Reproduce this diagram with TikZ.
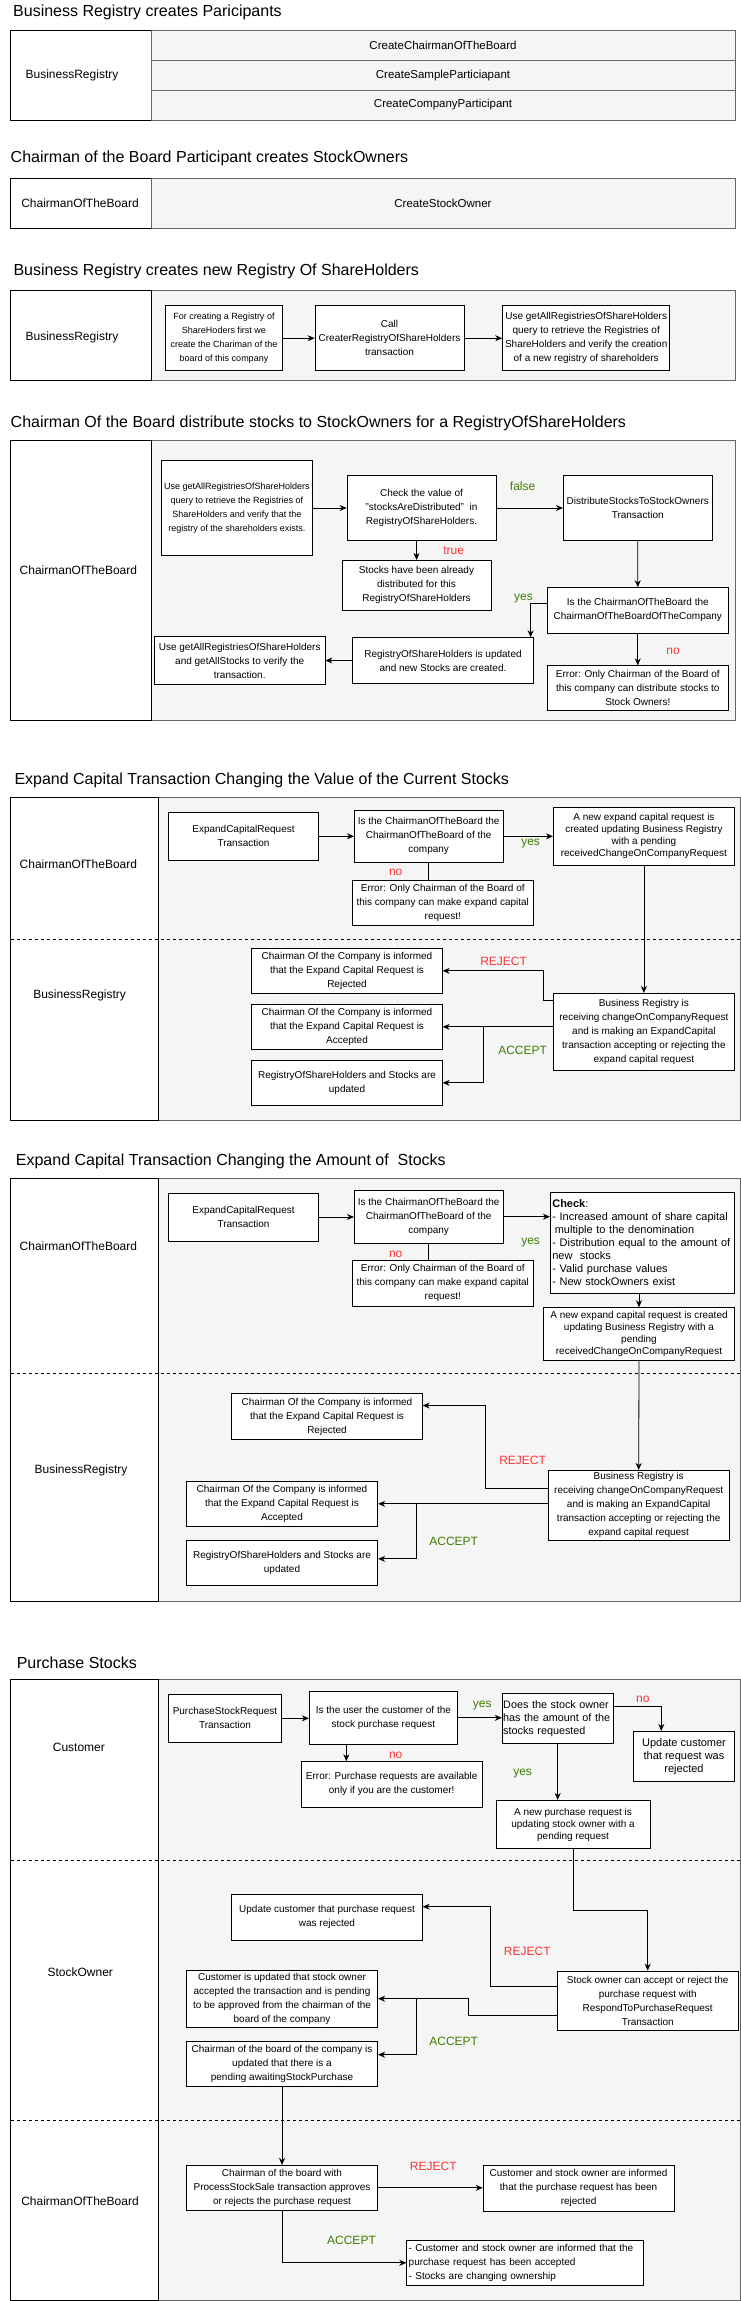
\documentclass[tikz,border=0pt]{standalone}
\usepackage{fontspec}
\setmainfont{Liberation Sans}
\usetikzlibrary{arrows.meta}
\definecolor{lanegray}{HTML}{F5F5F5}
\definecolor{linegray}{HTML}{666666}
\definecolor{okgreen}{HTML}{3D7D00}
\definecolor{nored}{HTML}{FF3333}
\newcommand{\setfs}[2]{\fontsize{#1}{#2}\selectfont}
\tikzset{
	box/.style={draw, fill=white, line width=0.8pt, align=center, inner sep=1pt, font=\setfs{10}{14}},
	sz/.style n args={2}{minimum width=#1pt, minimum height=#2pt},
	row/.style={draw=linegray, fill=lanegray, line width=0.8pt, font=\setfs{11.5}{14}},
	lanelbl/.style={font=\setfs{12}{14}},
	heading/.style={anchor=west, inner sep=0pt, font=\setfs{16}{18}},
	oklbl/.style={text=okgreen, font=\setfs{12}{14}},
	nolbl/.style={text=nored, font=\setfs{12}{14}},
	arr/.style={line width=0.8pt, -{Stealth[length=7pt,width=6pt]}},
	ln/.style={line width=0.8pt},
	lanebg/.style={draw=linegray, fill=lanegray, line width=0.8pt},
	lanecell/.style={draw=black, fill=white, line width=0.8pt},
	sep/.style={line width=0.8pt, dash pattern=on 3pt off 3pt},
}

\begin{document}
\begin{tikzpicture}[x=1pt,y=-1pt]
			\useasboundingbox (0,0) rectangle (741,2301);
			%%%%% START %%%%%
			
			% participants
			\node[heading] (t1) at (13,12.3) {Business Registry creates Paricipants};
			\draw[lanecell] (10.5,30.7) rectangle (151,120);
			\node[lanelbl] (l1) at (72,75.3) {BusinessRegistry};
			\node[row, sz={584}{30}] (r1) at (443,45.7) {CreateChairmanOfTheBoard};
			\node[row, sz={584}{29.3}] (r2) at (443,75.3) {CreateSampleParticiapant};
			\node[row, sz={584}{30}] (r3) at (443,105) {CreateCompanyParticipant};
			
			\node[heading] (t2) at (10.5,158.3) {Chairman of the Board Participant creates StockOwners};
			\draw[lanecell] (10.5,178.3) rectangle (151,228.3);
			\node[row, sz={584}{50}] (r4) at (443,203.3) {CreateStockOwner};
			\node[lanelbl] (l2) at (80,203.3) {ChairmanOfTheBoard};
			
			% registry of shareholders
			\node[heading] (t3) at (13.3,271.7) {Business Registry creates new Registry Of ShareHolders};
			\draw[lanebg] (151,290.7) rectangle (735,380);
			\draw[lanecell] (10.5,290.7) rectangle (151,380);
			\node[lanelbl] (l3) at (72,337.3) {BusinessRegistry};
			\node[box, sz={117.4}{65}, font=\setfs{9}{14}] (b1) at (224,338.2) {For creating a Registry of\\ShareHoders first we\\create the Chariman of the\\board of this company};
			\node[box, sz={149}{65}] (b2) at (389.5,338.2) {Call\\CreaterRegistryOfShareHolders\\transaction};
			\node[box, sz={167.2}{65}] (b3) at (586.2,338.2) {Use getAllRegistriesOfShareHolders\\query to retrieve the Registries of\\ShareHolders and verify the creation\\of a new registry of shareholders};
			\draw[arr] (b1) -- (b2);
			\draw[arr] (b2) -- (b3);
			
			% distribute stocks
			\node[heading] (t4) at (10.5,423.3) {Chairman Of the Board distribute stocks to StockOwners for a RegistryOfShareHolders};
			\draw[lanebg] (151,440.7) rectangle (735,720);
			\draw[lanecell] (10.5,440.7) rectangle (151,720);
			\node[lanelbl] (l4) at (78.4,570.7) {ChairmanOfTheBoard};
			\node[box, sz={150.5}{94.6}, font=\setfs{9}{14}] (c1) at (236.8,508) {Use getAllRegistriesOfShareHolders\\query to retrieve the Registries of\\ShareHolders and verify that the\\registry of the shareholders exists.};
			\node[box, sz={149}{65}] (c2) at (421.5,508) {Check the value of\\"stocksAreDistributed"~ in\\RegistryOfShareHolders.};
			\node[box, sz={148.6}{65}] (c3) at (637.7,508) {DistributeStocksToStockOwners\\Transaction};
			\node[box, sz={149}{50}] (c4) at (416.5,585.3) {Stocks have been already\\distributed for this\\RegistryOfShareHolders};
			\node[box, sz={181}{45.3}] (c5) at (637.8,610.3) {Is the ChairmanOfTheBoard the\\ChairmanOfTheBoardOfTheCompany};
			\node[box, sz={181}{45.6}] (c6) at (443,660.5) {RegistryOfShareHolders is updated\\and new Stocks are created.};
			\node[box, sz={170.6}{47.6}] (c7) at (239.7,660.5) {Use getAllRegistriesOfShareHolders\\and getAllStocks to verify the\\transaction.};
			\node[box, sz={181}{44.6}] (c8) at (637.8,688) {Error: Only Chairman of the Board of\\this company can distribute stocks to\\Stock Owners!};
			\coordinate (c56) at (530.6,603.3);
			\draw[arr] (c1) -- (c2);
			\draw[arr] (c2) -- (c3);
			\draw[arr] (c2.south -| c4) -- (c4.north);
			\draw[arr] (c3.south) -- (c5.north);
			\draw[arr] (c5.west |- c56) -- (c56) -- (c56 |- c6.north);
			\draw[arr] (c5.south) -- (c8.north);
			\draw[arr] (c6) -- (c7);
			\node[oklbl] (c23) at (522.6,486) {false};
			\node[nolbl] (c24) at (453.7,551) {true};
			\node[oklbl] (c5y) at (523.5,599) {yes};
			\node[nolbl] (c5n) at (673,651) {no};
			
			% expand capital, value
			\node[heading] (t5) at (14.3,780.7) {Expand Capital Transaction Changing the Value of the Current Stocks};
			\draw[lanebg] (158.2,797.3) rectangle (740,1120.3);
			\draw[lanecell] (10.5,797.3) rectangle (158.2,1120.3);
			\draw[sep] (10.5,939.3) -- (740,939.3);
			\node[lanelbl] (l5) at (78.4,864.7) {ChairmanOfTheBoard};
			\node[lanelbl] (l6) at (79.6,995.7) {BusinessRegistry};
			\node[box, sz={150.6}{48}] (d1) at (243.5,836.3) {ExpandCapitalRequest\\Transaction};
			\node[box, sz={148.6}{52}] (d2) at (428.7,836.3) {Is the ChairmanOfTheBoard the\\ChairmanOfTheBoard of the\\company};
			\node[box, sz={181}{58}, font=\setfs{10}{12}] (d3) at (643.9,836.3) {A new expand capital request is\\created updating Business Registry\\with a pending\\receivedChangeOnCompanyRequest};
			\node[box, sz={180.5}{45}] (d4) at (442.8,902.8) {Error: Only Chairman of the Board of\\this company can make expand capital\\request!};
			\node[box, sz={181}{77}] (d5) at (643.9,1031.8) {Business Registry is\\receiving changeOnCompanyRequest\\and is making an ExpandCapital\\transaction accepting or rejecting the\\expand capital request};
			\node[box, sz={190.5}{45}] (d6) at (347,970.8) {Chairman Of the Company is informed\\that the Expand Capital Request is\\Rejected};
			\node[box, sz={190.5}{45}] (d7) at (347,1026.8) {Chairman Of the Company is informed\\that the Expand Capital Request is\\Accepted};
			\node[box, sz={190.5}{45}] (d8) at (347,1082.8) {RegistryOfShareHolders and Stocks are\\updated};
			\coordinate (dr) at (543.5,1000.3);
			\coordinate (da) at (483.1,1026.8);
			\draw[arr] (d1) -- (d2);
			\draw[arr] (d2) -- (d3);
			\draw[ln] (d2.south) -- (d2.south |- d4.north);
			\draw[arr] (d3.south) -- (d5.north);
			\draw[arr] (d5.west |- dr) -- (dr) |- (d6.east);
			\draw[arr] (d5.west |- d7) -- (d7.east);
			\draw[arr] (da) |- (d8.east);
			\node[oklbl] (d2y) at (530.6,843.3) {yes};
			\node[nolbl] (d2n) at (395.7,872.7) {no};
			\node[nolbl] (d5r) at (503.6,961.7) {REJECT};
			\node[oklbl] (d5a) at (522.6,1050) {ACCEPT};
			
			% expand capital, amount
			\node[heading] (t6) at (15.7,1161.7) {Expand Capital Transaction Changing the Amount of\ \ Stocks};
			\draw[lanebg] (158.2,1178.7) rectangle (740,1601);
			\draw[lanecell] (10.5,1178.7) rectangle (158.2,1601);
			\draw[sep] (10.5,1373.3) -- (740,1373.3);
			\node[lanelbl] (l7) at (78.4,1245.7) {ChairmanOfTheBoard};
			\node[lanelbl] (l8) at (81,1470.7) {BusinessRegistry};
			\node[box, sz={150.6}{48}] (e1) at (243.5,1217) {ExpandCapitalRequest\\Transaction};
			\node[box, sz={148.6}{52.7}] (e2) at (428.7,1216.7) {Is the ChairmanOfTheBoard the\\ChairmanOfTheBoard of the\\company};
			\node[box, align=left, inner sep=2pt, text width=180pt, minimum height=101pt, font=\setfs{11}{13}] (e3) at (642.3,1242.8) {\textbf{Check}:\\- Increased amount of share capital\\\hspace*{2.5pt}multiple to the denomination\\- Distribution equal to the amount of\\new\ \ stocks\\- Valid purchase values\\- New stockOwners exist};
			\node[box, sz={180.5}{45.3}] (e4) at (442.8,1283.3) {Error: Only Chairman of the Board of\\this company can make expand capital\\request!};
			\node[box, sz={190.9}{52.3}, font=\setfs{10}{12}] (e5) at (639,1333.8) {A new expand capital request is created\\updating Business Registry with a\\pending\\receivedChangeOnCompanyRequest};
			\node[box, sz={190.5}{45.6}] (e6) at (327,1416.5) {Chairman Of the Company is informed\\that the Expand Capital Request is\\Rejected};
			\node[box, sz={181}{70}] (e7) at (638.7,1505.3) {Business Registry is\\receiving changeOnCompanyRequest\\and is making an ExpandCapital\\transaction accepting or rejecting the\\expand capital request};
			\node[box, sz={191.5}{45}] (e8) at (282,1503.8) {Chairman Of the Company is informed\\that the Expand Capital Request is\\Accepted};
			\node[box, sz={191.5}{45}] (e9) at (282,1562.8) {RegistryOfShareHolders and Stocks are\\updated};
			\coordinate (er) at (485.5,1488.3);
			\coordinate (ea) at (416.6,1503.8);
			\draw[arr] (e1.east) -- (e1.east -| e2.west);
			\draw[arr] (e2.east) -- (e2.east -| e3.west);
			\draw[ln] (e2.south) -- (e2.south |- e4.north);
			\draw[arr] (e3.south -| e5) -- (e5.north);
			\draw[arr] (e5.south) -- (e7.north);
			\draw[arr] (e7.west |- er) -- (er) |- ([yshift=11pt]e6.east);
			\draw[arr] (e7.west |- e8) -- (e8.east);
			\draw[arr] (ea) |- ([yshift=4pt]e9.east);
			\node[oklbl] (e2y) at (530.6,1242.3) {yes};
			\node[nolbl] (e2n) at (395.7,1254.3) {no};
			\node[nolbl] (e7r) at (522.6,1460.7) {REJECT};
			\node[oklbl] (e7a) at (453.7,1541) {ACCEPT};
			
			% purchase stocks
			\node[heading] (t7) at (16.6,1662.7) {Purchase Stocks};
			\draw[lanebg] (158.2,1679.7) rectangle (740,2300);
			\draw[lanecell] (10.5,1679.7) rectangle (158.2,2300);
			\draw[sep] (10.5,1860) -- (740,1860);
			\draw[sep] (10.5,2120.3) -- (740,2120.3);
			\node[lanelbl] (l9) at (78.9,1747) {Customer};
			\node[lanelbl] (l10) at (80.3,1971.7) {StockOwner};
			\node[lanelbl] (l11) at (80,2200.7) {ChairmanOfTheBoard};
			\node[box, sz={113.5}{48}] (f1) at (225,1718.3) {PurchaseStockRequest\\Transaction};
			\node[box, sz={148.2}{52.3}] (f2) at (383.4,1717.8) {Is the user the customer of the\\stock purchase request};
			\node[box, align=left, inner sep=1pt, text width=109pt, minimum height=50pt, font=\setfs{10.8}{13}] (f3) at (557.7,1718.3) {Does the stock owner\\has the amount of the\\stocks requested};
			\node[box, sz={100.7}{50}, font=\setfs{11}{13}] (f4) at (684,1756.3) {Update customer\\that request was\\rejected};
			\node[box, sz={181}{45.3}] (f5) at (391.7,1784.3) {Error: Purchase requests are available\\only if you are the customer!};
			\node[box, sz={153.9}{48.4}, font=\setfs{10}{12}] (f6) at (573,1824.5) {A new purchase request is\\updating stock owner with a\\pending request};
			\node[box, sz={190.5}{45.7}] (g1) at (327,1917.2) {Update customer that purchase request\\was rejected};
			\node[box, sz={181}{59}] (g2) at (647.7,2000.5) {Stock owner can accept or reject the\\purchase request with\\RespondToPurchaseRequest\\Transaction};
			\node[box, sz={191.5}{56.7}] (g3) at (282,1998.7) {Customer is updated that stock owner\\accepted the transaction and is pending\\to be approved from the chairman of the\\board of the company};
			\node[box, sz={191.5}{44.7}] (g4) at (282,2063.7) {Chairman of the board of the company is\\updated that there is a\\pending awaitingStockPurchase};
			\node[box, sz={191.5}{45}] (h1) at (282,2187.8) {Chairman of the board with\\ProcessStockSale transaction approves\\or rejects the purchase request};
			\node[box, sz={191}{45.7}] (h2) at (578.6,2188.2) {Customer and stock owner are informed\\that the purchase request has been\\rejected};
			\node[box, align=left, inner sep=2pt, text width=233pt, minimum height=45pt] (h3) at (525.2,2262.8) {- Customer and stock owner are informed that the\\purchase request has been accepted\\- Stocks are changing ownership};
			\coordinate (fn) at (661.3,1706.7);
			\coordinate (fg) at (573,1910.7);
			\coordinate (gr) at (490.3,1986.7);
			\coordinate (ga) at (468,2015.3);
			\coordinate (gb) at (416.6,1998.7);
			\draw[arr] (f1.east) -- (f1.east -| f2.west);
			\draw[arr] (f2.east) -- (f2.east -| f3.west);
			\draw[arr] (f3.east |- fn) -- (fn) -- (fn |- f4.north);
			\draw[arr] ([xshift=-37.1pt]f2.south) -- ([xshift=-37.1pt]f2.south |- f5.north);
			\draw[arr] (f3.south) -- (f3.south |- f6.north);
			\draw[arr] (f6.south) -- (fg) -| (g2.north);
			\draw[arr] (g2.west |- gr) -- (gr) |- ([yshift=10.5pt]g1.east);
			\draw[arr] (g2.west |- ga) -- (ga) |- (g3.east);
			\draw[arr] (gb) |- ([yshift=9pt]g4.east);
			\draw[arr] (g4.south) -- (h1.north);
			\draw[arr] (h1.east) -- (h1.east -| h2.west);
			\draw[arr] (h1.south) |- (h3.west);
			\node[oklbl] (f2y) at (482.2,1705.7) {yes};
			\node[nolbl] (f3n) at (642.8,1699.3) {no};
			\node[nolbl] (f2n) at (395.7,1755.7) {no};
			\node[oklbl] (f3y) at (522.6,1773.3) {yes};
			\node[nolbl] (g2r) at (527.3,1951.7) {REJECT};
			\node[oklbl] (g2a) at (453.7,2041.7) {ACCEPT};
			\node[nolbl] (h1r) at (433.3,2166.7) {REJECT};
			\node[oklbl] (h1a) at (351.5,2240.7) {ACCEPT};
			
			%%%%% END %%%%%
\end{tikzpicture}
\end{document}
